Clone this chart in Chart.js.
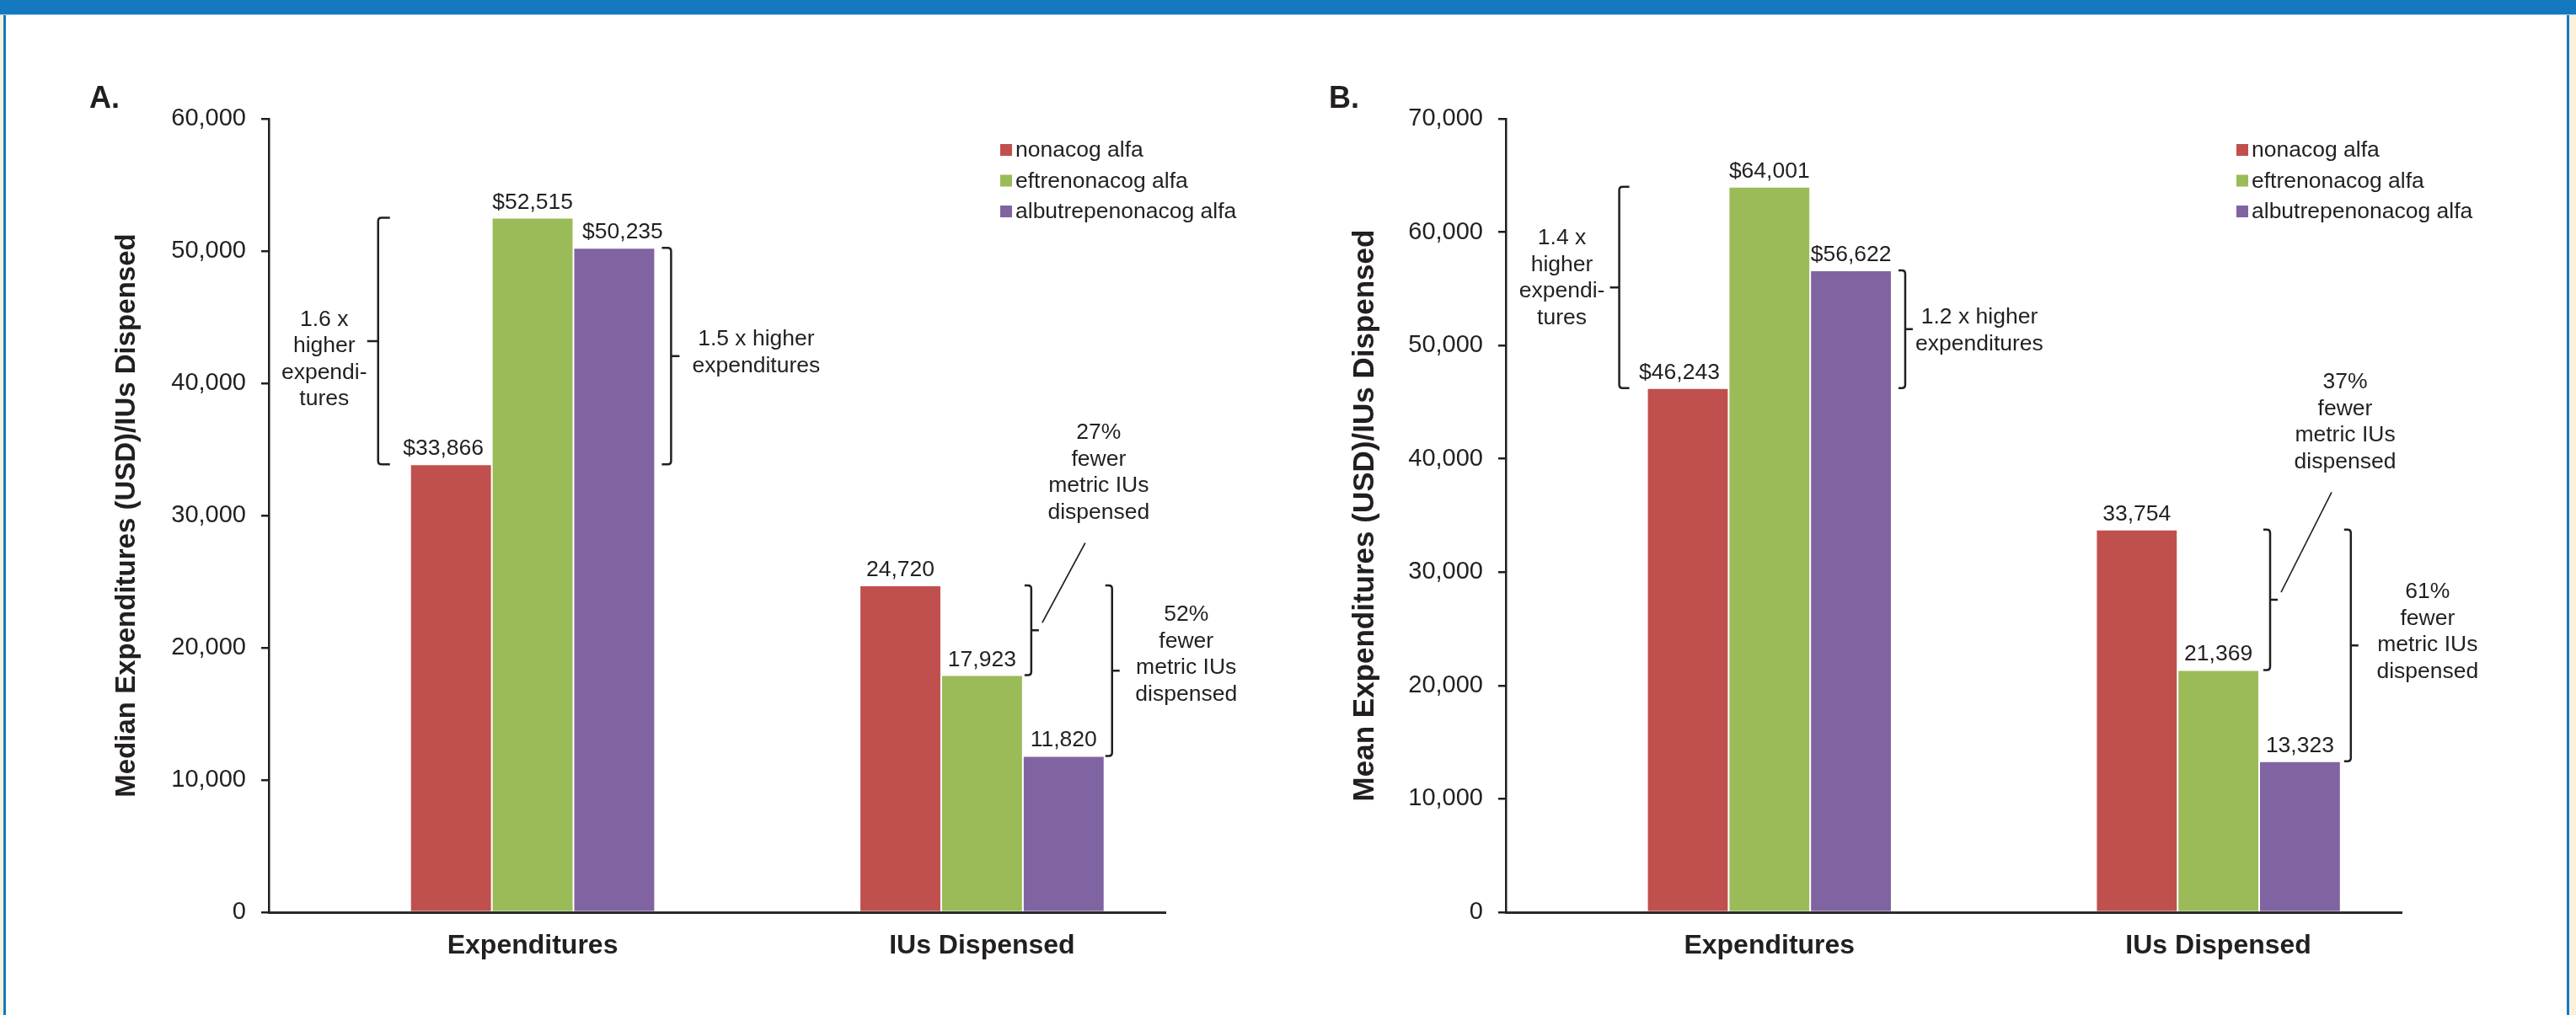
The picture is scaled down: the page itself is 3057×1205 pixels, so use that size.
<!DOCTYPE html>
<html>
<head>
<meta charset="utf-8">
<title>Factor IX expenditures and IUs dispensed</title>
<script src="https://cdn.jsdelivr.net/npm/chart.js@4.4.1/dist/chart.umd.min.js"></script>
<style>
  html, body { margin: 0; padding: 0; background: #ffffff; }
  #page { position: relative; width: 3057px; height: 1205px; overflow: hidden; background: #ffffff; }
  #page canvas { position: absolute; left: 0; top: 0; }
  .band { position: absolute; }
</style>
</head>
<body>
<div id="page">
  <div class="band" style="left:0;top:0;width:4px;height:1205px;background:#FBF0DC"></div>
  <div class="band" style="left:4px;top:0;width:3px;height:1205px;background:#1479BE"></div>
  <div class="band" style="left:3046px;top:0;width:3px;height:1205px;background:#1479BE"></div>
  <div class="band" style="left:3049px;top:0;width:8px;height:1205px;background:#FBF0DC"></div>
  <div class="band" style="left:0;top:0;width:3057px;height:17px;background:#1479BE"></div>
  <div class="band" style="left:0;top:17px;width:3057px;height:1px;background:#A6CFEA"></div>
  <canvas id="medianChart" width="3057" height="1205"></canvas>
  <canvas id="meanChart" width="3057" height="1205"></canvas>
</div>

<script>
// ---- data -------------------------------------------------------------
const categories = ['Expenditures', 'IUs Dispensed'];
const valuePrefix = ['$', ''];
const products = ['nonacog alfa', 'eftrenonacog alfa', 'albutrepenonacog alfa'];
const productColors = ['#C0504D', '#9BBB59', '#8064A2'];

// A. median annual values per patient
const medianNonacog = [33866, 24720];
const medianEftrenonacog = [52515, 17923];
const medianAlbutrepenonacog = [50235, 11820];
const medianAxisMax = 60000;

// B. mean annual values per patient
const meanNonacog = [46243, 33754];
const meanEftrenonacog = [64001, 21369];
const meanAlbutrepenonacog = [56622, 13323];
const meanAxisMax = 70000;

const axisStep = 10000;

const medianNotes = [
  ['1.6 x', 'higher', 'expendi-', 'tures'],
  ['1.5 x higher', 'expenditures'],
  ['27%', 'fewer', 'metric IUs', 'dispensed'],
  ['52%', 'fewer', 'metric IUs', 'dispensed']
];
const meanNotes = [
  ['1.4 x', 'higher', 'expendi-', 'tures'],
  ['1.2 x higher', 'expenditures'],
  ['37%', 'fewer', 'metric IUs', 'dispensed'],
  ['61%', 'fewer', 'metric IUs', 'dispensed']
];

// ---- styling ----------------------------------------------------------
const FONT = '"Liberation Sans", Arial, Helvetica, sans-serif';
const INK = '#231F20';
const NOTE_SIZE = 26.5;
const NOTE_LINE = 31.5;

Chart.defaults.font.family = FONT;
Chart.defaults.color = INK;

const fmt = v => Number(v).toLocaleString('en-US');

// ---- plugins ----------------------------------------------------------
// value printed above each bar (a few labels are nudged sideways so they clear neighbours)
const barValueLabels = {
  id: 'barValueLabels',
  afterDatasetsDraw(chart, args, opts) {
    const ctx = chart.ctx;
    const nudge = opts.nudge || {};
    ctx.save();
    ctx.font = `${NOTE_SIZE}px ${FONT}`;
    ctx.fillStyle = INK;
    ctx.textAlign = 'center';
    ctx.textBaseline = 'alphabetic';
    chart.data.datasets.forEach((ds, di) => {
      chart.getDatasetMeta(di).data.forEach((bar, i) => {
        const pt = ds.data[i];
        const shift = nudge[di + ':' + i] || 0;
        ctx.fillText(valuePrefix[pt.x] + fmt(pt.y), bar.x + shift, bar.y - 11);
      });
    });
    ctx.restore();
  }
};

function drawBracket(ctx, x, top, bot, dir, serif, nub) {
  // dir = 1 opens to the right "[", dir = -1 opens to the left "]"
  const r = 4;
  const mid = (top + bot) / 2;
  ctx.beginPath();
  ctx.moveTo(x + dir * serif, top);
  ctx.lineTo(x + dir * r, top);
  ctx.quadraticCurveTo(x, top, x, top + r);
  ctx.lineTo(x, bot - r);
  ctx.quadraticCurveTo(x, bot, x + dir * r, bot);
  ctx.lineTo(x + dir * serif, bot);
  ctx.moveTo(x, mid);
  ctx.lineTo(x - dir * nub, mid);
  ctx.stroke();
}

// brackets comparing two bars, with their captions
const comparisonBrackets = {
  id: 'comparisonBrackets',
  afterDatasetsDraw(chart, args, opts) {
    const ctx = chart.ctx;
    const yScale = chart.scales.y;
    const el = (ds, cat) => chart.getDatasetMeta(ds).data[cat];
    const val = (ds, cat) => chart.data.datasets[ds].data[cat].y;
    ctx.save();
    ctx.strokeStyle = INK;
    ctx.fillStyle = INK;
    ctx.font = `${NOTE_SIZE}px ${FONT}`;
    ctx.textAlign = 'center';
    ctx.textBaseline = 'middle';
    (opts.items || []).forEach(it => {
      const bar = el(it.edge[0], it.edge[1]);
      const edgeX = it.side === 'left' ? bar.x - bar.width / 2 : bar.x + bar.width / 2;
      const x = edgeX + it.gap;
      const yA = yScale.getPixelForValue(val(it.from[0], it.from[1]));
      const yB = yScale.getPixelForValue(val(it.to[0], it.to[1]));
      const top = Math.min(yA, yB), bot = Math.max(yA, yB), mid = (top + bot) / 2;
      const dir = it.side === 'left' ? 1 : -1;
      ctx.lineWidth = 2.5;
      drawBracket(ctx, x, top, bot, dir, it.serif, it.nub);

      const cx = x + it.dx;
      const cy = mid + it.dy;
      const n = it.lines.length;
      it.lines.forEach((t, k) => ctx.fillText(t, cx, cy + (k - (n - 1) / 2) * NOTE_LINE));

      if (it.leader) {
        ctx.lineWidth = 1.6;
        ctx.beginPath();
        ctx.moveTo(x - dir * (it.nub + 4), mid - 9);
        ctx.lineTo(cx - 16, cy + (n - 1) / 2 * NOTE_LINE + 36);
        ctx.stroke();
      }
    });
    ctx.restore();
  }
};

// stacked legend in the upper right of the plot
const productKey = {
  id: 'productKey',
  afterDraw(chart, args, opts) {
    const { ctx, chartArea } = chart;
    const x0 = chartArea.right + opts.dx;
    const y0 = chartArea.top + opts.dy;
    ctx.save();
    ctx.font = `${NOTE_SIZE}px ${FONT}`;
    ctx.textAlign = 'left';
    ctx.textBaseline = 'middle';
    chart.data.datasets.forEach((ds, i) => {
      const cy = y0 + i * opts.spacing;
      ctx.fillStyle = ds.backgroundColor;
      ctx.fillRect(x0, cy - 7, 14, 14);
      ctx.fillStyle = INK;
      ctx.fillText(ds.label, x0 + 18, cy + 1);
    });
    ctx.restore();
  }
};

// panel letter
const panelTag = {
  id: 'panelTag',
  afterDraw(chart, args, opts) {
    const { ctx, chartArea } = chart;
    ctx.save();
    ctx.font = `bold 36px ${FONT}`;
    ctx.fillStyle = INK;
    ctx.textAlign = 'left';
    ctx.textBaseline = 'alphabetic';
    ctx.fillText(opts.text, chartArea.left + opts.dx, chartArea.top + opts.dy);
    ctx.restore();
  }
};

// ---- chart factory ----------------------------------------------------
function buildPanel(canvasId, cfg) {
  const datasets = cfg.series.map((values, i) => ({
    label: products[i],
    data: values.map((v, c) => ({ x: c, y: v })),
    backgroundColor: productColors[i],
    borderColor: 'rgba(255,255,255,0.3)',
    borderWidth: 1,
    categoryPercentage: 0.545,
    barPercentage: 1.0
  }));

  return new Chart(document.getElementById(canvasId), {
    type: 'bar',
    data: { datasets },
    plugins: [barValueLabels, comparisonBrackets, productKey, panelTag],
    options: {
      responsive: false,
      animation: false,
      devicePixelRatio: 1,
      events: [],
      layout: { padding: cfg.padding },
      scales: {
        x: {
          type: 'linear',
          min: -0.587,
          max: 1.408,
          offset: false,
          bounds: 'data',
          z: 1,
          afterBuildTicks: s => { s.ticks = categories.map((c, i) => ({ value: i })); },
          afterFit: s => { s.height = 80; },
          ticks: {
            autoSkip: false,
            maxRotation: 0,
            padding: 21,
            color: INK,
            font: { size: 32, weight: 'bold' },
            callback: v => categories[v]
          },
          grid: { display: false, drawTicks: false },
          border: { display: true, color: '#2A2A2A', width: 3 }
        },
        y: {
          min: 0,
          max: cfg.axisMax,
          afterFit: s => { s.width = cfg.yWidth; },
          ticks: {
            stepSize: axisStep,
            padding: 18,
            color: INK,
            font: { size: 29 },
            callback: v => fmt(v)
          },
          grid: {
            drawOnChartArea: false,
            drawTicks: true,
            tickLength: 9,
            color: INK,
            lineWidth: 2.5
          },
          border: { display: true, color: INK, width: 2.5 },
          title: {
            display: true,
            text: cfg.yTitle,
            color: INK,
            font: { size: cfg.yTitleSize, weight: 'bold' },
            padding: { top: cfg.yTitlePad, bottom: 0 }
          }
        }
      },
      plugins: {
        legend: { display: false },
        tooltip: { enabled: false },
        barValueLabels: { nudge: cfg.labelNudge },
        productKey: { dx: -196, dy: 37, spacing: 36.5 },
        panelTag: { text: cfg.tag, dx: cfg.tagDx, dy: -13 },
        comparisonBrackets: { items: cfg.notes }
      }
    }
  });
}

// ---- panel A ----------------------------------------------------------
buildPanel('medianChart', {
  tag: 'A.',
  tagDx: -213,
  yTitle: 'Median Expenditures (USD)/IUs Dispensed',
  yTitleSize: 33,
  yTitlePad: 31,
  series: [medianNonacog, medianEftrenonacog, medianAlbutrepenonacog],
  axisMax: medianAxisMax,
  yWidth: 219,
  padding: { left: 100, top: 141, right: 1674, bottom: 42 },
  labelNudge: { '0:0': -9, '2:0': 10 },
  notes: [
    { from: [0, 0], to: [1, 0], edge: [0, 0], side: 'left', gap: -38, serif: 14, nub: 13, dx: -64, dy: 22, lines: medianNotes[0] },
    { from: [2, 0], to: [0, 0], edge: [2, 0], side: 'right', gap: 19, serif: 11, nub: 10, dx: 101, dy: -4, lines: medianNotes[1] },
    { from: [0, 1], to: [1, 1], edge: [1, 1], side: 'right', gap: 10, serif: 8, nub: 9, dx: 80, dy: -187, lines: medianNotes[2], leader: true },
    { from: [0, 1], to: [2, 1], edge: [2, 1], side: 'right', gap: 9, serif: 8, nub: 9, dx: 88, dy: -19, lines: medianNotes[3] }
  ]
});

// ---- panel B ----------------------------------------------------------
buildPanel('meanChart', {
  tag: 'B.',
  tagDx: -210,
  yTitle: 'Mean Expenditures (USD)/IUs Dispensed',
  yTitleSize: 35,
  yTitlePad: 29,
  series: [meanNonacog, meanEftrenonacog, meanAlbutrepenonacog],
  axisMax: meanAxisMax,
  yWidth: 217,
  padding: { left: 1570, top: 141, right: 207, bottom: 42 },
  labelNudge: { '0:0': -10 },
  notes: [
    { from: [0, 0], to: [1, 0], edge: [0, 0], side: 'left', gap: -33, serif: 12, nub: 11, dx: -68, dy: -11, lines: meanNotes[0] },
    { from: [2, 0], to: [0, 0], edge: [2, 0], side: 'right', gap: 16, serif: 8, nub: 9, dx: 88, dy: 2, lines: meanNotes[1] },
    { from: [0, 1], to: [1, 1], edge: [1, 1], side: 'right', gap: 13, serif: 8, nub: 9, dx: 89, dy: -211, lines: meanNotes[2], leader: true },
    { from: [0, 1], to: [2, 1], edge: [2, 1], side: 'right', gap: 12, serif: 8, nub: 9, dx: 91, dy: -16, lines: meanNotes[3] }
  ]
});
</script>
</body>
</html>
